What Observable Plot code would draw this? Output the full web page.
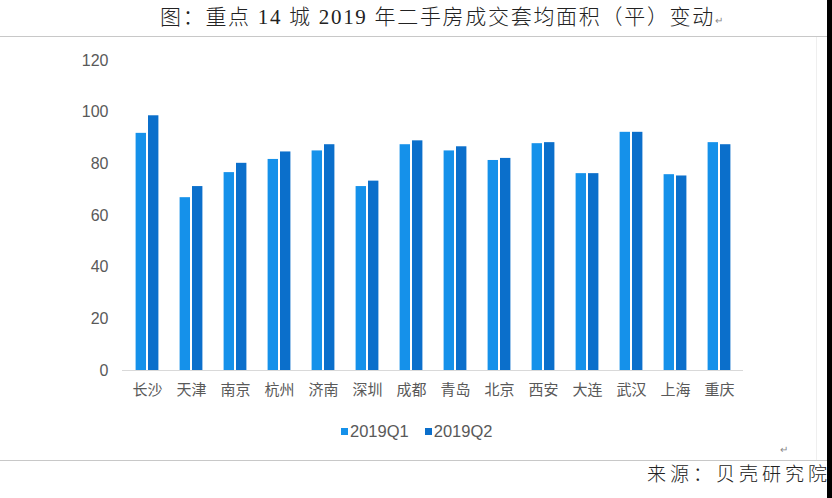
<!DOCTYPE html>
<html>
<head>
<meta charset="utf-8">
<script src="https://cdn.jsdelivr.net/npm/d3@7"></script>
<script src="https://cdn.jsdelivr.net/npm/@observablehq/plot@0.6"></script>
<style>
  html, body { margin: 0; padding: 0; background: #fff; }
  #page { position: relative; width: 832px; height: 498px; overflow: hidden; background: #fff; }
  .abs { position: absolute; }
  #title { left: 160px; top: 3px; font-family: 'Liberation Serif', 'Noto Sans CJK SC', serif; font-size: 21px; font-weight: 300; color: #222; white-space: nowrap; line-height: 28px; letter-spacing: 1.7px; }
  .ret { font-size: 10px; color: #888; letter-spacing: 0; }
  .hline { left: 0; width: 827px; height: 1px; background: #c8c8c8; }
  #chart { left: 0; top: 40px; }
  #legend { top: 421px; left: 341px; font-family: 'Liberation Sans', 'Noto Sans CJK SC', sans-serif; font-size: 16.5px; color: #595959; display: flex; align-items: center; white-space: nowrap; line-height: 20px; }
  .sw { display: inline-block; width: 7px; height: 7px; margin-right: 2px; }
  #source { right: 1px; top: 461px; font-family: 'Liberation Serif', 'Noto Sans CJK SC', serif; font-size: 19px; font-weight: 300; color: #222; letter-spacing: 4px; line-height: 28px; white-space: nowrap; }
  #bar { left: 827px; top: 0; width: 5px; height: 498px; background: #000; }
</style>
</head>
<body>
<div id="page">
  <div id="title" class="abs">图：重点 14 城 2019 年二手房成交套均面积（平）变动<span class="ret">↵</span></div>
  <div class="abs hline" style="top:36px"></div>
  <div id="chart" class="abs"></div>
  <div id="legend" class="abs"></div>
  <div class="abs ret" style="left:780px; top:444px;">↵</div>
  <div class="abs hline" style="top:460px"></div>
  <div id="source" class="abs">来源：贝壳研究院</div>
  <div class="abs" style="left:816px; top:37px; width:1px; height:423px; background:#efefef;"></div>
  <div id="bar" class="abs"></div>
</div>
<script>
const cities = ["长沙","天津","南京","杭州","济南","深圳","成都","青岛","北京","西安","大连","武汉","上海","重庆"];
const q1 = [91.8, 66.9, 76.6, 81.7, 85.0, 71.2, 87.4, 85.0, 81.3, 87.8, 76.2, 92.2, 75.8, 88.2];
const q2 = [98.6, 71.2, 80.2, 84.6, 87.4, 73.3, 88.9, 86.6, 82.1, 88.2, 76.2, 92.2, 75.3, 87.4];
const seriesNames = ["2019Q1", "2019Q2"];
const seriesColors = ["#1591EA", "#0B6FCB"];
const yTicks = [0, 20, 40, 60, 80, 100, 120];

const dataQ1 = cities.map((c, i) => ({city: c, value: q1[i], series: seriesNames[0]}));
const dataQ2 = cities.map((c, i) => ({city: c, value: q2[i], series: seriesNames[1]}));

const chart = Plot.plot({
  width: 832,
  height: 380,
  marginLeft: 122,
  marginRight: 89,
  marginTop: 20,
  marginBottom: 50,
  style: {
    fontFamily: "'Liberation Sans', 'Noto Sans CJK SC', sans-serif",
    color: "#595959",
    background: "transparent"
  },
  x: {domain: cities, padding: 0},
  y: {domain: [0, 120]},
  marks: [
    Plot.barY(dataQ1, {x: "city", y: "value", fill: seriesColors[0], insetLeft: 10.6, insetRight: 23}),
    Plot.barY(dataQ2, {x: "city", y: "value", fill: seriesColors[1], insetLeft: 23, insetRight: 10.6}),
    Plot.ruleY([0], {stroke: "#d9d9d9", strokeWidth: 1}),
    Plot.axisY({ticks: yTicks, tickSize: 0, tickPadding: 14, fontSize: 16, label: null}),
    Plot.axisX({tickSize: 0, tickPadding: 14, fontSize: 15, label: null})
  ]
});
document.getElementById("chart").appendChild(chart);

const legend = document.getElementById("legend");
seriesNames.forEach((name, i) => {
  const item = document.createElement("span");
  item.style.display = "inline-flex";
  item.style.alignItems = "center";
  item.style.marginRight = i === 0 ? "16px" : "0";
  const sw = document.createElement("span");
  sw.className = "sw";
  sw.style.background = seriesColors[i];
  const t = document.createElement("span");
  t.textContent = name;
  item.appendChild(sw);
  item.appendChild(t);
  legend.appendChild(item);
});
</script>
</body>
</html>
